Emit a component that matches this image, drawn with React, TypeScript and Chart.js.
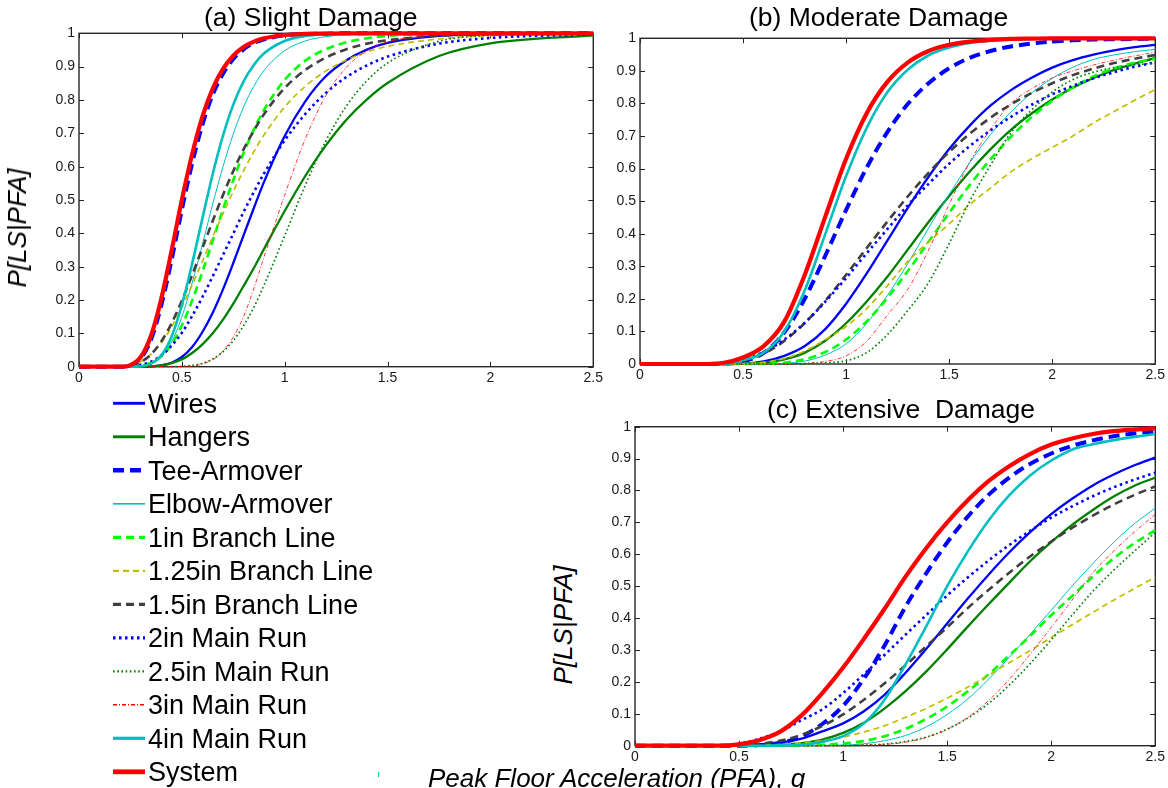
import React, { useEffect, useRef } from "react";
import { Chart, registerables } from "chart.js";

Chart.register(...registerables);

const FONT = "'Liberation Sans', Arial, Helvetica, sans-serif";

// ---------- series names (legend order) ----------
const SERIES_NAMES = [
  "Wires",
  "Hangers",
  "Tee-Armover",
  "Elbow-Armover",
  "1in Branch Line",
  "1.25in Branch Line",
  "1.5in Branch Line",
  "2in Main Run",
  "2.5in Main Run",
  "3in Main Run",
  "4in Main Run",
  "System",
];

// ---------- tick values ----------
const X_TICK_STEP = 0.5;
const Y_TICK_STEP = 0.1;

// ---------- (a) Slight Damage : PFA sample points ----------
const X_SLIGHT = [0, 0.2, 0.25, 0.3, 0.35, 0.4, 0.45, 0.5, 0.55, 0.6, 0.65, 0.7, 0.75, 0.8, 0.85, 0.9, 1.0, 1.1, 1.2, 1.3, 1.4, 1.5, 1.75, 2.0, 2.5];
const SLIGHT_WIRES = [0, 0, 0, 0, 0.001, 0.004, 0.012, 0.029, 0.059, 0.104, 0.162, 0.232, 0.311, 0.394, 0.476, 0.555, 0.692, 0.796, 0.871, 0.919, 0.951, 0.971, 0.992, 0.998, 1];
const SLIGHT_HANGERS = [0, 0, 0, 0, 0.001, 0.004, 0.011, 0.022, 0.041, 0.067, 0.1, 0.141, 0.189, 0.242, 0.296, 0.354, 0.467, 0.572, 0.664, 0.741, 0.802, 0.851, 0.932, 0.97, 0.994];
const SLIGHT_TEE = [0, 0, 0.004, 0.025, 0.081, 0.184, 0.32, 0.471, 0.61, 0.726, 0.816, 0.879, 0.923, 0.952, 0.971, 0.982, 0.994, 0.998, 0.999, 1, 1, 1, 1, 1, 1];
const SLIGHT_ELBOW = [0, 0, 0, 0.001, 0.008, 0.029, 0.074, 0.149, 0.251, 0.367, 0.488, 0.6, 0.698, 0.779, 0.841, 0.889, 0.948, 0.977, 0.99, 0.996, 0.998, 0.999, 1, 1, 1];
const SLIGHT_BR1 = [0, 0, 0, 0.003, 0.011, 0.031, 0.067, 0.124, 0.198, 0.285, 0.378, 0.472, 0.56, 0.641, 0.711, 0.771, 0.86, 0.918, 0.952, 0.973, 0.985, 0.992, 0.998, 0.999, 1];
const SLIGHT_BR125 = [0, 0.001, 0.005, 0.015, 0.037, 0.071, 0.119, 0.179, 0.245, 0.316, 0.389, 0.459, 0.526, 0.588, 0.645, 0.696, 0.779, 0.841, 0.887, 0.92, 0.944, 0.961, 0.983, 0.993, 0.999];
const SLIGHT_BR15 = [0, 0.001, 0.004, 0.014, 0.037, 0.076, 0.13, 0.198, 0.275, 0.356, 0.437, 0.515, 0.587, 0.652, 0.708, 0.758, 0.836, 0.89, 0.927, 0.952, 0.969, 0.979, 0.993, 0.997, 1];
const SLIGHT_MR2 = [0, 0, 0.001, 0.006, 0.015, 0.034, 0.063, 0.102, 0.152, 0.209, 0.271, 0.335, 0.399, 0.464, 0.524, 0.58, 0.679, 0.758, 0.821, 0.869, 0.904, 0.93, 0.969, 0.986, 0.997];
const SLIGHT_MR25 = [0, 0, 0, 0, 0, 0, 0, 0.001, 0.004, 0.01, 0.023, 0.045, 0.078, 0.123, 0.178, 0.245, 0.393, 0.544, 0.677, 0.782, 0.858, 0.911, 0.976, 0.994, 1];
const SLIGHT_MR3 = [0, 0, 0, 0, 0, 0, 0, 0.001, 0.002, 0.008, 0.021, 0.047, 0.089, 0.15, 0.235, 0.33, 0.515, 0.683, 0.813, 0.898, 0.948, 0.974, 0.996, 0.999, 1];
const SLIGHT_MR4 = [0, 0, 0, 0.001, 0.009, 0.034, 0.09, 0.185, 0.309, 0.445, 0.578, 0.693, 0.786, 0.856, 0.905, 0.94, 0.977, 0.992, 0.997, 0.999, 1, 1, 1, 1, 1];
const SLIGHT_SYSTEM = [0, 0, 0.005, 0.029, 0.093, 0.204, 0.348, 0.5, 0.637, 0.75, 0.834, 0.893, 0.933, 0.959, 0.975, 0.985, 0.995, 0.998, 0.999, 1, 1, 1, 1, 1, 1];

// ---------- (b) Moderate Damage ----------
const X_MODERATE = [0, 0.3, 0.4, 0.5, 0.6, 0.7, 0.8, 0.9, 1.0, 1.1, 1.2, 1.3, 1.4, 1.5, 1.6, 1.7, 1.8, 1.9, 2.0, 2.1, 2.2, 2.3, 2.4, 2.5];
const MOD_WIRES = [0, 0, 0, 0.001, 0.008, 0.025, 0.055, 0.108, 0.185, 0.278, 0.379, 0.48, 0.575, 0.66, 0.732, 0.793, 0.841, 0.879, 0.91, 0.933, 0.95, 0.963, 0.973, 0.98];
const MOD_HANGERS = [0, 0, 0, 0.001, 0.004, 0.014, 0.035, 0.072, 0.125, 0.192, 0.268, 0.352, 0.436, 0.516, 0.591, 0.659, 0.719, 0.769, 0.812, 0.848, 0.878, 0.903, 0.922, 0.94];
const MOD_TEE = [0, 0, 0.001, 0.008, 0.034, 0.097, 0.201, 0.334, 0.473, 0.603, 0.712, 0.799, 0.862, 0.908, 0.94, 0.961, 0.975, 0.984, 0.99, 0.994, 0.996, 0.997, 0.998, 0.999];
const MOD_ELBOW = [0, 0, 0, 0, 0, 0.002, 0.009, 0.028, 0.062, 0.125, 0.21, 0.309, 0.417, 0.521, 0.618, 0.704, 0.774, 0.832, 0.877, 0.911, 0.935, 0.949, 0.959, 0.966];
const MOD_BR1 = [0, 0, 0, 0, 0.001, 0.004, 0.015, 0.037, 0.075, 0.131, 0.203, 0.286, 0.375, 0.464, 0.55, 0.628, 0.698, 0.758, 0.808, 0.849, 0.883, 0.908, 0.925, 0.937];
const MOD_BR125 = [0, 0, 0, 0.001, 0.005, 0.017, 0.04, 0.075, 0.115, 0.17, 0.24, 0.315, 0.375, 0.43, 0.49, 0.54, 0.59, 0.63, 0.665, 0.7, 0.74, 0.775, 0.81, 0.843];
const MOD_BR15 = [0, 0, 0.002, 0.011, 0.032, 0.071, 0.126, 0.195, 0.274, 0.356, 0.437, 0.515, 0.587, 0.651, 0.707, 0.756, 0.797, 0.832, 0.862, 0.887, 0.907, 0.924, 0.937, 0.949];
const MOD_MR2 = [0, 0, 0.003, 0.014, 0.037, 0.075, 0.127, 0.192, 0.264, 0.34, 0.414, 0.488, 0.553, 0.615, 0.669, 0.717, 0.759, 0.796, 0.828, 0.854, 0.877, 0.896, 0.913, 0.926];
const MOD_MR25 = [0, 0, 0, 0, 0, 0, 0.001, 0.004, 0.01, 0.035, 0.09, 0.165, 0.25, 0.37, 0.5, 0.61, 0.71, 0.78, 0.835, 0.873, 0.896, 0.91, 0.918, 0.924];
const MOD_MR3 = [0, 0, 0, 0, 0, 0, 0.002, 0.008, 0.025, 0.07, 0.15, 0.23, 0.35, 0.49, 0.62, 0.72, 0.8, 0.845, 0.878, 0.9, 0.918, 0.933, 0.946, 0.957];
const MOD_MR4 = [0, 0, 0, 0.012, 0.035, 0.1, 0.227, 0.401, 0.577, 0.725, 0.834, 0.904, 0.948, 0.972, 0.986, 0.993, 0.996, 0.998, 0.999, 1, 1, 1, 1, 1];
const MOD_SYSTEM = [0, 0, 0.003, 0.02, 0.055, 0.13, 0.275, 0.454, 0.63, 0.77, 0.866, 0.926, 0.961, 0.98, 0.99, 0.995, 0.998, 0.999, 1, 1, 1, 1, 1, 1];

// ---------- (c) Extensive Damage ----------
const X_EXTENSIVE = [0, 0.3, 0.4, 0.5, 0.6, 0.7, 0.8, 0.9, 1.0, 1.1, 1.2, 1.3, 1.4, 1.5, 1.6, 1.7, 1.8, 1.9, 2.0, 2.1, 2.2, 2.3, 2.4, 2.5];
const EXT_WIRES = [0, 0, 0, 0, 0.001, 0.01, 0.022, 0.045, 0.07, 0.108, 0.16, 0.229, 0.304, 0.383, 0.462, 0.537, 0.607, 0.67, 0.726, 0.774, 0.816, 0.85, 0.879, 0.903];
const EXT_HANGERS = [0, 0, 0, 0, 0.001, 0.003, 0.008, 0.019, 0.04, 0.072, 0.117, 0.171, 0.233, 0.302, 0.374, 0.444, 0.512, 0.579, 0.638, 0.692, 0.739, 0.781, 0.815, 0.84];
const EXT_TEE = [0, 0, 0, 0, 0.002, 0.009, 0.029, 0.068, 0.125, 0.21, 0.315, 0.436, 0.541, 0.637, 0.719, 0.787, 0.841, 0.884, 0.916, 0.94, 0.957, 0.97, 0.979, 0.985];
const EXT_ELBOW = [0, 0, 0, 0, 0, 0, 0, 0.001, 0.002, 0.006, 0.016, 0.032, 0.059, 0.098, 0.147, 0.209, 0.278, 0.35, 0.425, 0.5, 0.571, 0.637, 0.696, 0.745];
const EXT_BR1 = [0, 0, 0, 0, 0, 0, 0.001, 0.003, 0.007, 0.015, 0.03, 0.053, 0.084, 0.123, 0.171, 0.224, 0.284, 0.345, 0.409, 0.469, 0.53, 0.587, 0.635, 0.675];
const EXT_BR125 = [0, 0, 0, 0, 0.001, 0.004, 0.008, 0.016, 0.027, 0.043, 0.063, 0.089, 0.117, 0.149, 0.184, 0.221, 0.261, 0.299, 0.339, 0.379, 0.418, 0.456, 0.493, 0.528];
const EXT_BR15 = [0, 0, 0, 0.002, 0.006, 0.016, 0.034, 0.062, 0.098, 0.144, 0.196, 0.252, 0.312, 0.371, 0.432, 0.489, 0.543, 0.594, 0.64, 0.683, 0.721, 0.756, 0.786, 0.813];
const EXT_MR2 = [0, 0, 0.001, 0.006, 0.022, 0.045, 0.08, 0.114, 0.165, 0.224, 0.285, 0.348, 0.41, 0.471, 0.528, 0.581, 0.63, 0.674, 0.715, 0.75, 0.782, 0.81, 0.834, 0.856];
const EXT_MR25 = [0, 0, 0, 0, 0, 0, 0, 0, 0, 0.002, 0.005, 0.013, 0.027, 0.052, 0.087, 0.133, 0.191, 0.258, 0.332, 0.409, 0.484, 0.55, 0.61, 0.668];
const EXT_MR3 = [0, 0, 0, 0, 0, 0, 0, 0, 0, 0.002, 0.004, 0.011, 0.026, 0.051, 0.089, 0.142, 0.209, 0.288, 0.371, 0.456, 0.542, 0.61, 0.67, 0.725];
const EXT_MR4 = [0, 0, 0, 0, 0, 0.001, 0.003, 0.012, 0.03, 0.07, 0.145, 0.255, 0.375, 0.5, 0.61, 0.707, 0.786, 0.848, 0.894, 0.928, 0.945, 0.958, 0.968, 0.977];
const EXT_SYSTEM = [0, 0, 0, 0.004, 0.018, 0.045, 0.095, 0.165, 0.245, 0.335, 0.43, 0.53, 0.62, 0.7, 0.77, 0.83, 0.877, 0.915, 0.944, 0.963, 0.977, 0.986, 0.991, 0.995];

const SLIGHT = [SLIGHT_WIRES, SLIGHT_HANGERS, SLIGHT_TEE, SLIGHT_ELBOW, SLIGHT_BR1, SLIGHT_BR125, SLIGHT_BR15, SLIGHT_MR2, SLIGHT_MR25, SLIGHT_MR3, SLIGHT_MR4, SLIGHT_SYSTEM];
const MODERATE = [MOD_WIRES, MOD_HANGERS, MOD_TEE, MOD_ELBOW, MOD_BR1, MOD_BR125, MOD_BR15, MOD_MR2, MOD_MR25, MOD_MR3, MOD_MR4, MOD_SYSTEM];
const EXTENSIVE = [EXT_WIRES, EXT_HANGERS, EXT_TEE, EXT_ELBOW, EXT_BR1, EXT_BR125, EXT_BR15, EXT_MR2, EXT_MR25, EXT_MR3, EXT_MR4, EXT_SYSTEM];

// ---------- line styles (same order as SERIES_NAMES) ----------
const STYLES = [
  { color: "#0000ff", width: 2.3, dash: [] as number[] },
  { color: "#008000", width: 2.3, dash: [] as number[] },
  { color: "#0000ff", width: 4, dash: [11, 6] },
  { color: "#00bfbf", width: 1, dash: [] as number[] },
  { color: "#00ff00", width: 2.6, dash: [8, 5] },
  { color: "#bfbf00", width: 1.7, dash: [6, 4] },
  { color: "#404040", width: 2.6, dash: [8, 5] },
  { color: "#0000ff", width: 2.6, dash: [2.5, 3.5] },
  { color: "#008000", width: 1.7, dash: [1.6, 2.6] },
  { color: "#ff0000", width: 0.8, dash: [4, 2, 1, 2] },
  { color: "#00bfbf", width: 2.6, dash: [] as number[] },
  { color: "#ff0000", width: 4.2, dash: [] as number[] },
];

const fmtTick = (v: any) => String(Number(Number(v).toFixed(2)));

const framePlugin = {
  id: "matlabFrame",
  beforeDatasetsDraw(chart: any) {
    const { ctx, chartArea: a, scales } = chart;
    ctx.save();
    ctx.strokeStyle = "#262626";
    ctx.lineWidth = 1.4;
    ctx.setLineDash([]);
    ctx.strokeRect(a.left, a.top, a.right - a.left, a.bottom - a.top);
    ctx.lineWidth = 1;
    const L = 5;
    ctx.beginPath();
    scales.x.ticks.forEach((t: any) => {
      const x = Math.round(scales.x.getPixelForValue(t.value)) + 0.5;
      ctx.moveTo(x, a.bottom);
      ctx.lineTo(x, a.bottom - L);
      ctx.moveTo(x, a.top);
      ctx.lineTo(x, a.top + L);
    });
    scales.y.ticks.forEach((t: any) => {
      const y = Math.round(scales.y.getPixelForValue(t.value)) + 0.5;
      ctx.moveTo(a.left, y);
      ctx.lineTo(a.left + L, y);
      ctx.moveTo(a.right, y);
      ctx.lineTo(a.right - L, y);
    });
    ctx.stroke();
    ctx.restore();
  },
};

type PanelProps = {
  xs: number[];
  series: number[][];
  left: number;
  top: number;
  width: number;
  height: number;
  pad: { left: number; right: number; top: number; bottom: number };
  yw: number;
  xh: number;
};

function Panel({ xs, series, left, top, width, height, pad, yw, xh }: PanelProps) {
  const ref = useRef<HTMLCanvasElement | null>(null);
  useEffect(() => {
    if (!ref.current) return;
    const drawOrder = SERIES_NAMES.map((_, i) => SERIES_NAMES.length - 1 - i);
    const tickFont = { size: 14, family: FONT };
    const chart = new Chart(ref.current, {
      type: "line",
      data: {
        datasets: drawOrder.map((i) => ({
          label: SERIES_NAMES[i],
          data: xs.map((x, k) => ({ x, y: series[i][k] })),
          borderColor: STYLES[i].color,
          backgroundColor: STYLES[i].color,
          borderWidth: STYLES[i].width,
          borderDash: STYLES[i].dash,
          pointRadius: 0,
          pointHoverRadius: 0,
          fill: false,
          cubicInterpolationMode: "monotone",
          clip: false,
        })),
      },
      options: {
        animation: false,
        responsive: false,
        maintainAspectRatio: false,
        events: [],
        layout: { padding: pad },
        plugins: {
          legend: { display: false },
          tooltip: { enabled: false },
          title: { display: false },
        },
        scales: {
          x: {
            type: "linear",
            min: 0,
            max: 2.5,
            afterFit: (s: any) => {
              s.height = xh;
            },
            grid: { display: false, drawTicks: false },
            border: { display: false },
            ticks: {
              stepSize: X_TICK_STEP,
              padding: 3,
              color: "#1a1a1a",
              font: tickFont,
              maxRotation: 0,
              autoSkip: false,
              callback: fmtTick,
            },
          },
          y: {
            type: "linear",
            min: 0,
            max: 1,
            afterFit: (s: any) => {
              s.width = yw;
            },
            grid: { display: false, drawTicks: false },
            border: { display: false },
            ticks: {
              stepSize: Y_TICK_STEP,
              padding: 4,
              color: "#1a1a1a",
              font: tickFont,
              autoSkip: false,
              callback: fmtTick,
            },
          },
        },
      } as any,
      plugins: [framePlugin],
    } as any);
    return () => chart.destroy();
  }, []);
  return (
    <canvas
      ref={ref}
      width={width}
      height={height}
      style={{ position: "absolute", left, top, width, height }}
    />
  );
}

const LEGEND_BASE = 413.3;
const LEGEND_STEP = 33.5;

function LegendSamples() {
  const ref = useRef<HTMLCanvasElement | null>(null);
  useEffect(() => {
    const c = ref.current;
    if (!c) return;
    const ctx = c.getContext("2d");
    if (!ctx) return;
    ctx.clearRect(0, 0, c.width, c.height);
    SERIES_NAMES.forEach((_, i) => {
      const s = STYLES[i];
      const y = LEGEND_BASE + i * LEGEND_STEP - 10 - 385;
      ctx.beginPath();
      ctx.strokeStyle = s.color;
      ctx.lineWidth = Math.max(s.width + 0.6, 1.2);
      ctx.setLineDash(s.dash);
      ctx.moveTo(8, y);
      ctx.lineTo(40, y);
      ctx.stroke();
    });
  }, []);
  return (
    <canvas
      ref={ref}
      width={50}
      height={400}
      style={{ position: "absolute", left: 105, top: 385, width: 50, height: 400 }}
    />
  );
}

const textBase: React.CSSProperties = {
  position: "absolute",
  fontFamily: FONT,
  fontSize: 26,
  lineHeight: "26px",
  color: "#000",
  whiteSpace: "pre",
};

export default function App() {
  return (
    <div
      style={{
        position: "absolute",
        left: 0,
        top: 0,
        width: 1168,
        height: 788,
        background: "#fff",
        overflow: "hidden",
      }}
    >
      <Panel
        xs={X_SLIGHT}
        series={SLIGHT}
        left={30}
        top={20}
        width={576}
        height={380}
        pad={{ left: 9, right: 12, top: 13.3, bottom: 3.3 }}
        yw={40}
        xh={30}
      />
      <Panel
        xs={X_MODERATE}
        series={MODERATE}
        left={600}
        top={25}
        width={568}
        height={371}
        pad={{ left: 4, right: 9.7, top: 13.3, bottom: 2 }}
        yw={36}
        xh={30}
      />
      <Panel
        xs={X_EXTENSIVE}
        series={EXTENSIVE}
        left={595}
        top={412}
        width={573}
        height={376}
        pad={{ left: 4, right: 10.3, top: 14.7, bottom: 12.3 }}
        yw={36}
        xh={30}
      />

      <div style={{ ...textBase, fontSize: 26.5, left: 204, top: 4 }}>(a) Slight Damage</div>
      <div style={{ ...textBase, fontSize: 26.5, left: 749, top: 4 }}>(b) Moderate Damage</div>
      <div style={{ ...textBase, fontSize: 26.5, left: 767, top: 396 }}>(c) Extensive  Damage</div>

      <div
        style={{
          ...textBase,
          fontStyle: "italic",
          left: 17,
          top: 228,
          transform: "translate(-50%, -50%) rotate(-90deg)",
        }}
      >
        P[LS|PFA]
      </div>
      <div
        style={{
          ...textBase,
          fontStyle: "italic",
          left: 563,
          top: 625,
          transform: "translate(-50%, -50%) rotate(-90deg)",
        }}
      >
        P[LS|PFA]
      </div>
      <div style={{ ...textBase, fontStyle: "italic", left: 428, top: 764.5 }}>
        Peak Floor Acceleration (PFA), g
      </div>

      <LegendSamples />
      {SERIES_NAMES.map((name, i) => (
        <div
          key={name}
          style={{
            ...textBase,
            fontSize: 27,
            lineHeight: "27px",
            left: 148,
            top: LEGEND_BASE + i * LEGEND_STEP - 22.8,
          }}
        >
          {name}
        </div>
      ))}
      <div
        style={{
          position: "absolute",
          left: 378,
          top: 772,
          width: 1,
          height: 5,
          background: "#00bfbf",
        }}
      />
    </div>
  );
}
